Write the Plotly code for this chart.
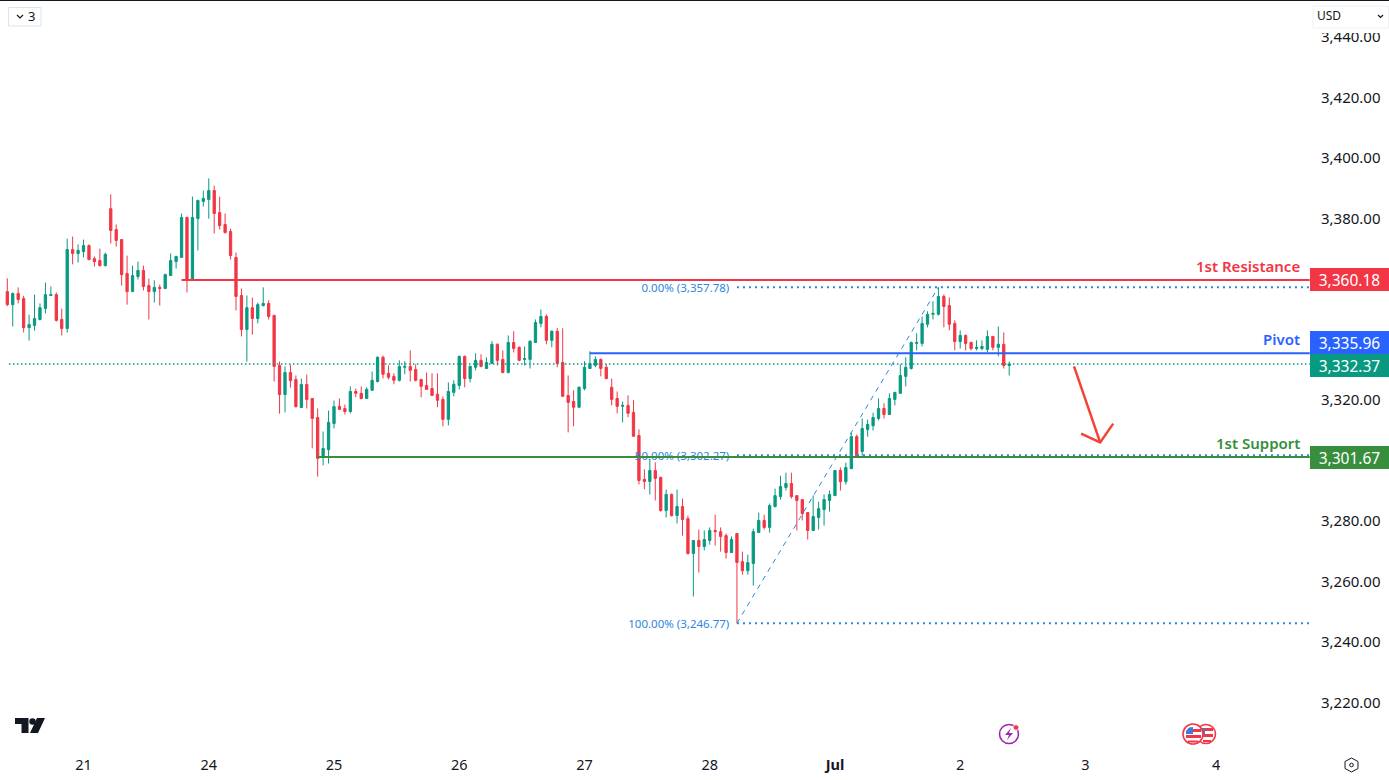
import plotly.graph_objects as go

opens = [
3356.3,3352.0,3355.7,3354.0,3344.4,3345.1,3347.1,3350.7,3355.0,3355.3,
3347.1,3344.1,3370.2,3368.9,3369.5,3371.5,3367.2,3366.6,3364.9,3383.7,
3376.8,3373.5,3362.3,3356.3,3361.3,3363.3,3358.3,3356.3,3357.7,3357.3,
3361.6,3366.2,3367.6,3380.8,3360.0,3380.4,3386.1,3386.7,3389.7,3382.4,
3378.5,3376.2,3367.6,3355.0,3343.8,3351.0,3347.4,3351.7,3352.4,3348.4,
3331.9,3322.3,3329.6,3327.3,3318.0,3325.6,3321.0,3314.7,3301.5,3304.1,3312.7,
3318.4,3317.7,3316.7,3323.3,3322.7,3321.0,3323.7,3326.6,3334.6,3329.3,
3328.3,3327.0,3331.3,3331.6,3330.6,3327.3,3325.3,3324.3,3322.4,3320.7,
3314.1,3323.0,3325.3,3334.9,3327.6,3331.3,3333.6,3330.9,3332.6,3338.9,
3333.9,3329.6,3339.5,3337.9,3333.9,3333.9,3339.5,3345.8,3348.1,3340.2,
3343.2,3332.9,3322.0,3320.0,3318.1,3324.3,3330.9,3331.9,3333.9,3331.3,
3324.7,3321.0,3318.4,3318.7,3316.4,3308.8,3294.3,3293.6,3297.2,
3294.9,3284.0,3289.3,3282.3,3285.3,3281.3,3269.8,3274.1,3272.1,3274.1,
3277.4,3277.0,3275.7,3270.1,3276.4,3267.1,3264.1,3266.5,3276.7,3280.7,
3278.4,3285.3,3288.6,3291.6,3292.9,3288.9,3287.6,3283.3,3277.4,3281.7,
3284.3,3287.3,3288.9,3297.2,3293.5,3297.8,3308.4,3303.5,3310.7,3312.0,
3314.4,3317.7,3315.7,3320.7,3322.7,3328.3,3330.9,3339.2,3339.2,3345.5,
3348.8,3348.8,3354.7,3351.7,3345.8,3339.8,3341.8,3339.5,3337.5,3337.5,
3337.2,3341.5,3337.9,3338.9,3331.9]

highs = [
3360.7,3356.0,3357.7,3354.9,3348.7,3355.3,3352.4,3359.3,3358.0,3356.0,
3350.7,3373.8,3374.5,3371.9,3373.5,3371.9,3367.9,3370.5,3369.2,3388.4,
3378.5,3373.5,3368.2,3364.9,3366.2,3364.9,3360.6,3360.0,3358.6,3362.3,
3368.9,3368.2,3382.1,3381.1,3387.7,3386.7,3389.7,3393.7,3391.3,3387.7,
3382.1,3377.1,3369.2,3357.3,3355.0,3354.3,3352.7,3357.7,3353.4,3348.7,
3333.2,3331.6,3332.2,3328.6,3327.6,3328.9,3321.0,3317.7,3310.1,3317.0,3320.3,
3321.0,3319.0,3325.0,3324.3,3325.0,3324.7,3329.9,3334.9,3335.2,3331.9,
3329.3,3333.6,3333.3,3336.9,3332.3,3327.3,3329.6,3329.3,3329.3,3321.7,
3326.3,3327.0,3335.2,3335.2,3331.9,3335.9,3335.6,3334.6,3339.9,3339.2,
3336.9,3341.8,3343.2,3338.2,3338.2,3340.2,3347.1,3350.4,3348.8,3343.5,
3344.2,3344.2,3328.6,3323.7,3325.0,3333.3,3336.6,3334.9,3334.2,3332.3,
3327.6,3323.3,3320.0,3322.0,3320.4,3310.8,3297.6,3300.9,3299.9,
3295.2,3290.9,3289.6,3290.9,3287.9,3282.3,3274.1,3277.7,3277.4,3278.4,
3282.6,3278.4,3276.4,3275.4,3276.4,3270.4,3269.4,3278.0,3283.3,3282.6,
3286.3,3291.2,3295.5,3296.5,3296.5,3288.9,3287.6,3283.3,3288.9,3286.9,
3289.3,3290.6,3297.2,3298.2,3299.8,3309.7,3309.1,3314.4,3314.0,3316.3,
3321.0,3319.4,3322.7,3323.2,3332.3,3334.6,3339.8,3342.5,3348.1,3349.8,
3353.1,3357.8,3355.4,3354.4,3346.8,3343.5,3342.2,3339.8,3340.2,3340.2,
3343.5,3341.5,3344.8,3342.8,3333.2]

lows = [
3351.5,3344.8,3352.4,3342.8,3340.1,3343.4,3346.8,3349.1,3355.0,3346.4,
3341.8,3342.8,3365.3,3365.9,3367.6,3366.6,3364.6,3364.6,3364.6,3372.2,
3371.2,3358.3,3352.0,3356.3,3360.3,3356.7,3347.1,3352.7,3351.7,3357.3,
3361.6,3363.9,3367.6,3356.0,3360.0,3369.9,3384.4,3380.4,3375.5,3376.8,
3375.5,3366.9,3350.1,3341.5,3333.2,3342.1,3345.8,3351.4,3347.1,3326.6,
3316.0,3316.4,3324.6,3318.0,3318.0,3317.7,3304.5,3295.2,3298.9,3299.5,3311.1,
3317.4,3315.7,3316.1,3321.4,3320.7,3321.0,3323.7,3326.3,3327.6,3327.3,
3325.7,3326.6,3329.0,3326.6,3326.6,3321.4,3324.0,3322.0,3318.1,3311.8,
3312.1,3321.7,3324.0,3324.7,3326.3,3330.3,3331.3,3330.9,3332.6,3331.9,
3329.3,3329.3,3336.2,3333.3,3331.9,3330.9,3339.5,3344.5,3338.9,3337.9,
3331.3,3321.7,3309.8,3311.8,3318.1,3323.7,3330.9,3331.3,3328.3,3327.3,
3318.7,3316.1,3313.1,3314.8,3308.5,3292.6,3291.0,3289.3,3287.3,
3283.6,3281.7,3282.0,3279.7,3275.7,3269.4,3255.6,3263.5,3270.8,3272.7,
3272.4,3270.4,3268.1,3270.1,3246.8,3262.8,3262.8,3259.2,3276.7,3277.7,
3276.7,3285.0,3287.6,3290.6,3287.9,3277.4,3280.7,3274.4,3277.4,3277.7,
3279.0,3283.6,3288.9,3290.6,3292.6,3297.8,3301.8,3302.1,3308.4,3310.4,
3313.8,3314.4,3315.7,3318.7,3322.7,3325.0,3330.6,3336.9,3338.2,3344.5,
3347.1,3348.4,3344.5,3343.5,3336.9,3337.5,3336.9,3336.9,3336.9,3336.9,
3336.2,3336.9,3334.9,3330.9,3328.6]

closes = [
3352.0,3355.7,3353.7,3344.4,3345.4,3347.4,3351.0,3355.3,3355.3,3346.8,
3344.1,3370.2,3368.9,3369.9,3371.5,3366.9,3366.2,3364.9,3368.6,3376.5,
3373.2,3361.9,3356.3,3361.6,3363.3,3358.0,3356.3,3357.7,3357.3,3361.9,
3366.6,3367.9,3380.8,3360.0,3380.8,3386.4,3387.1,3389.7,3382.1,3378.1,
3375.8,3368.2,3354.7,3343.8,3351.0,3347.4,3352.0,3352.4,3348.1,3331.6,
3322.3,3329.6,3326.9,3318.3,3325.6,3320.7,3314.4,3301.2,3304.5,3313.1,3318.3,
3317.4,3316.7,3323.3,3322.7,3321.0,3324.0,3327.0,3334.6,3329.0,3328.0,
3327.0,3331.6,3331.6,3330.3,3327.0,3325.0,3324.0,3322.0,3320.4,3314.1,
3323.3,3325.7,3334.9,3327.6,3331.6,3333.6,3331.6,3332.9,3338.9,3333.6,
3329.6,3339.5,3337.5,3333.6,3334.2,3339.9,3346.1,3348.1,3340.2,3343.2,
3332.6,3321.7,3319.7,3318.1,3324.7,3331.3,3332.6,3333.9,3330.9,3327.6,
3320.7,3318.4,3318.7,3316.1,3308.5,3293.9,3293.6,3297.2,3294.6,
3284.0,3289.3,3282.3,3285.3,3281.0,3269.8,3274.1,3272.1,3274.4,3277.4,
3277.0,3275.4,3270.1,3274.4,3266.8,3264.1,3266.8,3277.0,3280.7,3278.4,
3285.6,3288.9,3291.9,3292.9,3288.6,3287.3,3283.0,3277.4,3282.0,3284.6,
3287.6,3289.3,3297.2,3293.5,3298.2,3308.4,3302.1,3311.1,3312.4,3314.7,
3317.7,3315.7,3321.0,3323.0,3328.6,3331.3,3339.5,3339.5,3345.8,3348.8,
3349.1,3354.7,3351.4,3345.5,3339.8,3341.8,3339.2,3337.5,3337.9,3338.2,
3341.5,3337.9,3338.9,3331.9,3332.37]

candle_index = list(range(len(opens)))

resistance, pivot, support, last_price = 3360.18, 3335.96, 3301.67, 3332.37
fib_high, fib_mid, fib_low = 3357.78, 3302.27, 3246.77
resistance_start, pivot_start, support_start = 32, 107, 57
fib_start, fib_end = 134, 171
level_end = 239.2
last_start = 0.3

arrow_x = [195.9, 200.7, None, 197.2, 200.7, 203.1]
arrow_y = [3331.6, 3306.5, None, 3309.4, 3306.5, 3312.7]

price_ticks = [3220, 3240, 3260, 3280, 3320, 3380, 3400, 3420, 3440]
day_ticks = [14, 37, 60, 83, 106, 129, 152, 175, 198, 222]
day_labels = ["21", "24", "25", "26", "27", "28", "<b>Jul</b>", "2", "3", "4"]

GREEN, RED, BLUE, SUP, FIB = "#089981", "#F23645", "#2962FF", "#388E3C", "#2E86DE"
INK = "#131722"
FONT = "Noto Sans"
PW, PH = 1310.0, 750.0

def px(x): return x / PW
def py(y): return 1 - y / PH
def poly(points, close=True):
    s = "M " + " L ".join(f"{px(a):.5f},{py(b):.5f}" for a, b in points)
    return s + (" Z" if close else "")

def rect(x0, y0, x1, y1, fill, line=None, lw=0):
    return dict(type="rect", xref="paper", yref="paper", x0=px(x0), x1=px(x1), y0=py(y0), y1=py(y1),
                fillcolor=fill, line=dict(color=line or fill, width=lw), layer="above")
def circle(cx, cy, r, fill, line=None, lw=0):
    return dict(type="circle", xref="paper", yref="paper", x0=px(cx-r), x1=px(cx+r), y0=py(cy-r), y1=py(cy+r),
                fillcolor=fill, line=dict(color=line or fill, width=lw), layer="above")
def path(points, fill=None, line=None, lw=0, close=True):
    return dict(type="path", xref="paper", yref="paper", path=poly(points, close),
                fillcolor=fill or "rgba(0,0,0,0)", line=dict(color=line or "rgba(0,0,0,0)", width=lw), layer="above")

fig = go.Figure()
fig.add_trace(go.Candlestick(
    x=candle_index, open=opens, high=highs, low=lows, close=closes,
    increasing=dict(line=dict(color=GREEN, width=1), fillcolor=GREEN),
    decreasing=dict(line=dict(color=RED, width=1), fillcolor=RED),
    whiskerwidth=0, showlegend=False, hoverinfo="skip"))

# invisible carrier for the price-scale labels on the overlaid axis
fig.add_trace(go.Scatter(x=[0] * len(price_ticks), y=price_ticks, yaxis="y2", mode="markers",
                         marker=dict(opacity=0, size=1), showlegend=False, hoverinfo="skip"))

def line(xs, ys, color, width, dash="solid"):
    fig.add_trace(go.Scatter(x=xs, y=ys, mode="lines", showlegend=False, hoverinfo="skip",
                             line=dict(color=color, width=width, dash=dash)))

fib_text = ["0.00% (3,357.78)", "50.00% (3,302.27)", "100.00% (3,246.77)"]
fib_text_drop = 0.5
fig.add_trace(go.Scatter(x=[fib_start - 1.4] * 3,
                         y=[fib_high - fib_text_drop, fib_mid - fib_text_drop, fib_low - fib_text_drop],
                         mode="text", text=fib_text,
                         textposition="middle left", textfont=dict(family=FONT, size=11.5, color=FIB),
                         showlegend=False, hoverinfo="skip"))
line([last_start, level_end], [last_price, last_price], GREEN, 1.6, "1.5px,2.5px")
line([fib_start, fib_end], [fib_low, fib_high], FIB, 1, "5px,5px")
for lv in (fib_high, fib_mid, fib_low):
    line([fib_start, level_end], [lv, lv], FIB, 2, "2px,4px")
line([resistance_start, level_end], [resistance, resistance], RED, 2)
line([pivot_start, level_end], [pivot, pivot], BLUE, 2)
line([support_start, level_end], [support, support], SUP, 2)
line(arrow_x, arrow_y, "#F44336", 2.5)

annotations = []
for value, color, shift in [(resistance, RED, 0), (pivot, BLUE, 11), (last_price, GREEN, -1), (support, SUP, -1)]:
    annotations.append(dict(xref="paper", x=1, xanchor="left", yref="y", y=value, yanchor="middle", yshift=shift,
                            text=f"{value:,.2f}", showarrow=False, width=79, height=23, bgcolor=color,
                            borderpad=0, borderwidth=0, align="center", valign="middle",
                            font=dict(family=FONT, size=15.5, color="white")))
for name, value, color in [("1st Resistance", resistance, RED), ("Pivot", pivot, BLUE), ("1st Support", support, SUP)]:
    annotations.append(dict(xref="paper", x=px(1302), xanchor="right", yref="y", y=value, yanchor="bottom", yshift=2,
                            text=name, showarrow=False, font=dict(family=FONT, size=15, color=color, weight=600)))
def label(x, y, text, size, color=INK, anchor="center"):
    annotations.append(dict(xref="paper", yref="paper", x=px(x), y=py(y), xanchor=anchor, yanchor="middle",
                            text=text, showarrow=False, font=dict(family=FONT, size=size, color=color)))
label(31, 16, "3", 13)
label(1315, 16, "USD", 12, anchor="left")

shapes = [
    rect(0, 0, 1389, 1, INK),
    rect(8.5, 7.5, 41, 26, "white", "#E0E3EB", 1),
    rect(1311, 27, 1389, 33, "white"),
    rect(1313, 6, 1388.5, 28, "white", "#EEF0F3", 1),
    path([(17, 15), (20, 18), (23, 15)], line=INK, lw=1.2, close=False),
    path([(1378, 15), (1380.5, 17.5), (1383, 15)], line=INK, lw=1.2, close=False),
    # logo
    path([(15, 718), (28.5, 718), (28.5, 733), (21.5, 733), (21.5, 724), (15, 724)], fill=INK),
    circle(32.5, 721.5, 3.2, INK),
    path([(37, 718), (45, 718), (38, 733), (30, 733)], fill=INK),
    # lightning badge
    circle(1009, 734, 9.5, "white", "#9C27B0", 1.6),
    path([(1011, 728), (1005, 735), (1009, 735), (1007, 740), (1013, 733), (1009, 733)], fill="#9C27B0"),
    circle(1016, 727.5, 2.8, RED, "white", 0.8),
    # flags (back, then front)
    circle(1206, 734, 9.5, "white", RED, 1.6),
    rect(1203, 728, 1213, 731, RED), rect(1203, 734, 1213, 737, RED), rect(1203, 740, 1211, 742, RED),
    rect(1202, 728, 1205, 735, "#3D7DD8"),
    circle(1193, 734, 10, "white", RED, 1.6),
    rect(1193, 729, 1201, 732, RED), rect(1186, 735, 1201, 738, RED), rect(1188, 740.5, 1198, 742.5, RED),
    path([(1186, 734), (1186, 731), (1189, 727.5), (1193, 727), (1193, 734)], fill="#3D7DD8"),
    # settings
    path([(1351.5, 758), (1358, 761.5), (1358, 768.5), (1351.5, 772), (1345, 768.5), (1345, 761.5)], line=INK, lw=1),
    circle(1351.5, 765, 1.8, "white", INK, 1),
]

fig.update_layout(
    width=1389, height=780, margin=dict(l=0, r=79, t=0, b=30, pad=0),
    paper_bgcolor="white", plot_bgcolor="white", showlegend=False,
    boxgap=0.4, boxgroupgap=0.3, annotations=annotations, shapes=shapes,
    xaxis=dict(range=[-1.34, 239.24], tickmode="array", tickvals=day_ticks, ticktext=day_labels,
               showgrid=False, zeroline=False, showline=False, rangeslider=dict(visible=False),
               ticks="outside", ticklen=2, tickcolor="white", tickfont=dict(family=FONT, size=14.5, color=INK)),
    yaxis=dict(range=[3204.87, 3452.64], side="right", showticklabels=False,
               showgrid=False, zeroline=False, showline=False),
    yaxis2=dict(range=[3204.37, 3452.14], side="right", overlaying="y", anchor="x", tickmode="array",
                tickvals=price_ticks, tickformat=",.2f", showgrid=False, zeroline=False, showline=False,
                ticks="outside", ticklen=7, tickcolor="white", tickfont=dict(family=FONT, size=15, color=INK)),
)
fig.write_html("out.html", config=dict(displayModeBar=False),
               post_script="document.body.style.margin='0';document.body.style.overflow='hidden';")
